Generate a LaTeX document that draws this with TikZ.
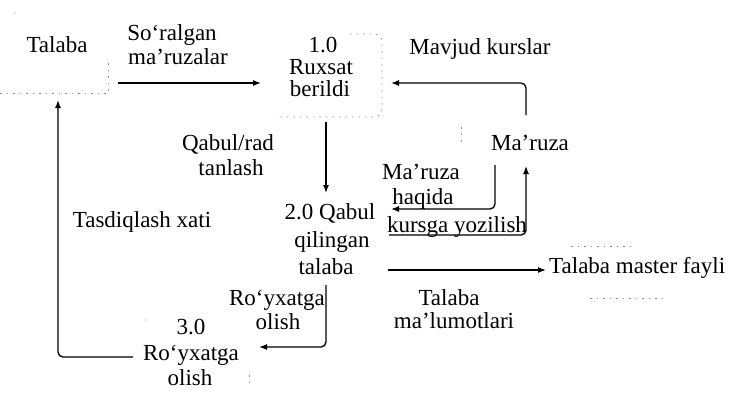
\documentclass[tikz,border=0pt]{standalone}
\usepackage{fontspec}
\setmainfont{Liberation Serif}
\usetikzlibrary{arrows.meta}
\begin{document}
\begin{tikzpicture}[x=1pt,y=-1pt,
  txt/.style={inner sep=0pt, font=\fontsize{23}{25}\selectfont, anchor=base},
  flow/.style={line width=1.3pt, -{Latex[length=8pt,width=6pt]}, rounded corners=5pt},
  faint/.style={black!45, line width=0.7pt, dash pattern=on 1.5pt off 5pt}]
\useasboundingbox (0,0) rectangle (732,394);
% external entity: Talaba
\node[txt] (talaba) at (57,52) {Talaba};
\draw[faint] (0,93) -- (108,93) -- (108,63);
\fill[black!45] (15,13) circle (0.6pt);
% process 1.0
\node[txt] (p1a) at (323,52) {1.0};
\node[txt] (p1b) at (321,74) {Ruxsat};
\node[txt] (p1c) at (320,96) {berildi};
\draw[faint, rounded corners=8pt] (350,34) -| (382,117) -- (275,117);
% external entity: Ma'ruza
\node[txt] (mar) at (530,150) {Ma’ruza};
\draw[faint] (461,127) -- (461,146);
% process 2.0
\node[txt] (p2a) at (330,219) {2.0 Qabul};
\node[txt] (p2b) at (332,247) {qilingan};
\node[txt] (p2c) at (326,274) {talaba};
% process 3.0
\node[txt] (p3a) at (191,334) {3.0};
\node[txt] (p3b) at (191,360) {Ro‘yxatga};
\node[txt] (p3c) at (190,385) {olish};
\fill[black!45] (145,320) circle (0.6pt);
\draw[faint] (249,375) -- (249,387);
% data store
\node[txt, anchor=base west] (tmf) at (549,273) {Talaba master fayli};
\draw[faint] (571,246) -- (635,246);
\draw[faint] (590,298) -- (667,298);
% flow labels
\node[txt] (l1a) at (172,40) {So‘ralgan};
\node[txt] (l1b) at (178,64) {ma’ruzalar};
\node[txt] (l2) at (480,54) {Mavjud kurslar};
\node[txt] (l3a) at (228,150) {Qabul/rad};
\node[txt] (l3b) at (231,175) {tanlash};
\node[txt] (l4a) at (421,179) {Ma’ruza};
\node[txt] (l4b) at (423,204) {haqida};
\node[txt] (l5) at (457,232) {kursga yozilish};
\node[txt] (l6a) at (449,305) {Talaba};
\node[txt] (l6b) at (454,328) {ma’lumotlari};
\node[txt] (l7a) at (277,305) {Ro‘yxatga};
\node[txt] (l7b) at (278,329) {olish};
\node[txt] (l8) at (142,227) {Tasdiqlash xati};
% connector end points
\coordinate (c1s) at (118,83);  \coordinate (c1e) at (261,83);
\coordinate (c2s) at (526,115); \coordinate (c2e) at (391,83);
\coordinate (c3s) at (326,122); \coordinate (c3e) at (326,193);
\coordinate (c4s) at (495,165); \coordinate (c4e) at (391,209);
\coordinate (c5s) at (389,235); \coordinate (c5e) at (526,166);
\coordinate (c6s) at (388,270); \coordinate (c6e) at (546,270);
\coordinate (c7s) at (326,285); \coordinate (c7e) at (259,347);
\coordinate (c8s) at (133,357); \coordinate (c8e) at (58,100);
% connectors
\draw[flow] (c1s) -- (c1e);
\draw[flow] (c2s) |- (c2e);
\draw[flow] (c3s) -- (c3e);
\draw[flow] (c4s) |- (c4e);
\draw[flow] (c5s) -| (c5e);
\draw[flow] (c6s) -- (c6e);
\draw[flow] (c7s) |- (c7e);
\draw[flow] (c8s) -| (c8e);
\end{tikzpicture}
\end{document}
